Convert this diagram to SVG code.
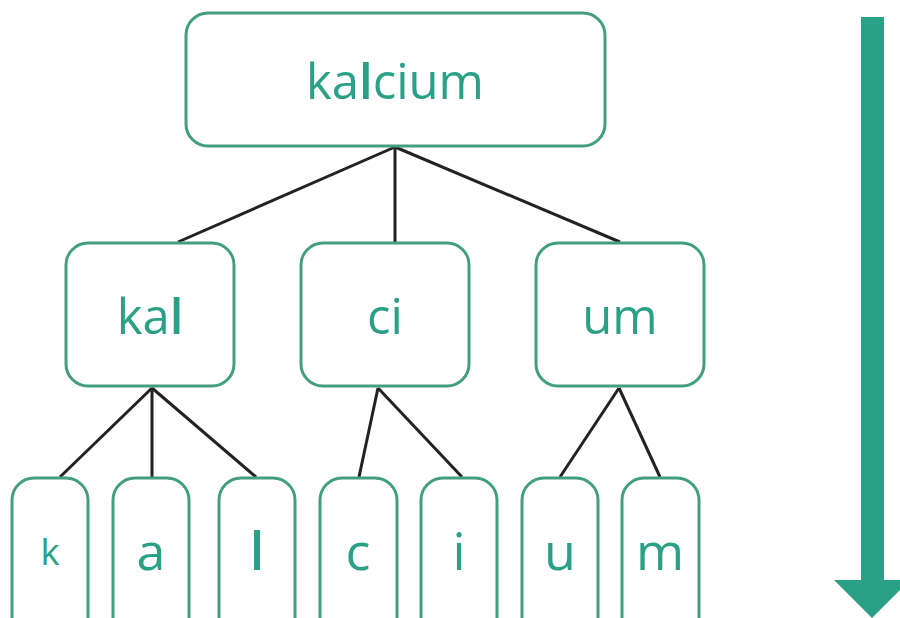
<svg xmlns="http://www.w3.org/2000/svg" width="900" height="618" viewBox="0 0 900 618">
<style>
.box{fill:#fff;stroke:#429e82;stroke-width:3}
.t{font-family:"Open Sans","Noto Sans",sans-serif;fill:#2aa086;text-anchor:middle}
.b{font-weight:600}
.edge{stroke:#222;stroke-width:3;fill:none}
</style>
<rect width="900" height="618" fill="#fff"/>
<g id="connectors">
<line class="edge" x1="395" y1="147" x2="178" y2="242"/>
<line class="edge" x1="395" y1="147" x2="395" y2="242"/>
<line class="edge" x1="395" y1="147" x2="620" y2="242"/>
<line class="edge" x1="152" y1="388" x2="60" y2="477"/>
<line class="edge" x1="152" y1="388" x2="152" y2="477"/>
<line class="edge" x1="152" y1="388" x2="256" y2="477"/>
<line class="edge" x1="378" y1="388" x2="359" y2="477"/>
<line class="edge" x1="378" y1="388" x2="462" y2="477"/>
<line class="edge" x1="619" y1="388" x2="560" y2="477"/>
<line class="edge" x1="619" y1="388" x2="660" y2="477"/>
</g>
<g id="root"><rect class="box" x="186" y="13" width="419" height="133" rx="22"/><text class="t" x="395" y="99" font-size="49">ka<tspan class="b">l</tspan>cium</text></g>
<g id="kal"><rect class="box" x="66" y="243" width="168" height="143" rx="22"/><text class="t" x="150" y="334" font-size="49">ka<tspan class="b">l</tspan></text></g>
<g id="ci"><rect class="box" x="301" y="243" width="168" height="143" rx="22"/><text class="t" x="385" y="334" font-size="49">ci</text></g>
<g id="um"><rect class="box" x="536" y="243" width="168" height="143" rx="22"/><text class="t" x="620" y="334" font-size="49">um</text></g>
<g id="leaf-k"><rect class="box" x="12" y="478" width="76" height="170" rx="22"/><text class="t" x="50" y="565" font-size="36">k</text></g>
<g id="leaf-a"><rect class="box" x="113" y="478" width="76" height="170" rx="22"/><text class="t" x="151" y="570" font-size="52">a</text></g>
<g id="leaf-l"><rect class="box" x="219" y="478" width="76" height="170" rx="22"/><text class="t b" x="257" y="570" font-size="52">l</text></g>
<g id="leaf-c"><rect class="box" x="320" y="478" width="77" height="170" rx="22"/><text class="t" x="358" y="570" font-size="52">c</text></g>
<g id="leaf-i"><rect class="box" x="421" y="478" width="76" height="170" rx="22"/><text class="t" x="459" y="570" font-size="52">i</text></g>
<g id="leaf-u"><rect class="box" x="522" y="478" width="76" height="170" rx="22"/><text class="t" x="560" y="570" font-size="52">u</text></g>
<g id="leaf-m"><rect class="box" x="622" y="478" width="77" height="170" rx="22"/><text class="t" x="660" y="570" font-size="52">m</text></g>
<g id="arrow"><polygon fill="#2aa086" points="861,17 884,17 884,580 910,580 872,618 834,580 861,580"/></g>
</svg>
